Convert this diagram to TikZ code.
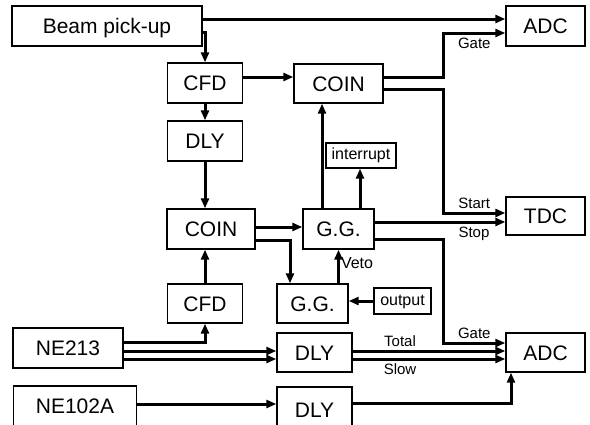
\documentclass[tikz,border=0pt]{standalone}
\usepackage{fontspec}
\setmainfont{Liberation Sans}
\usetikzlibrary{arrows.meta}

\begin{document}
\begin{tikzpicture}[x=1pt, y=-1pt, line width=3pt,
      box/.style={draw, line width=1.4pt, font=\fontsize{21}{25}\selectfont,
                  text height=15pt, text depth=0pt, inner sep=0pt},
      smallbox/.style={draw, line width=1.4pt, font=\fontsize{16}{19}\selectfont,
                  text height=11.5pt, text depth=3.5pt, inner sep=0pt},
      lbl/.style={font=\fontsize{15}{18}\selectfont, inner sep=3pt},
      >={Triangle[length=10pt, width=8pt]}]
    \clip (0,0) rectangle (590,424);
    % timing branch
    \node[box, minimum width=190pt, minimum height=40pt] (bpu) at (107,26) {Beam pick-up};
    \node[box, minimum width=75pt, minimum height=40pt] (cfdA) at (205,83) {CFD};
    \node[box, minimum width=75pt, minimum height=40pt] (dlyA) at (205,141) {DLY};
    \node[box, minimum width=89pt, minimum height=39pt] (coinA) at (338.5,83.5) {COIN};
    \node[box, minimum width=79pt, minimum height=40pt] (adcA) at (545.5,26) {ADC};
    \node[smallbox, minimum width=70pt, minimum height=25pt] (irq) at (361,155.5) {interrupt};
    \node[box, minimum width=88pt, minimum height=40pt] (coinB) at (211,229) {COIN};
    \node[box, minimum width=71pt, minimum height=40pt] (ggA) at (338.5,229) {G.G.};
    \node[box, minimum width=79pt, minimum height=38pt] (tdc) at (545.5,216) {TDC};
    \node[box, minimum width=75pt, minimum height=39pt] (cfdB) at (205,303.5) {CFD};
    \node[box, minimum width=71pt, minimum height=39pt] (ggB) at (312.5,303.5) {G.G.};
    \node[smallbox, minimum width=57pt, minimum height=26pt] (outp) at (402.5,301) {output};
    % detectors
    \node[box, minimum width=110pt, minimum height=40pt] (ne213) at (68,348) {NE213};
    \node[box, minimum width=75pt, minimum height=39pt] (dlyB) at (314.5,352.5) {DLY};
    \node[box, minimum width=79pt, minimum height=39pt] (adcB) at (545.5,352.5) {ADC};
    \node[box, minimum width=123pt, minimum height=40pt] (ne102) at (75,406) {NE102A};
    \node[box, minimum width=75pt, minimum height=46pt] (dlyC) at (314.5,410) {DLY};

    \draw[->] ([yshift=7pt]bpu.east) -- ([yshift=7pt]adcA.west);
    \draw[->] ([yshift=-6pt]bpu.east) -| (cfdA.north);
    \draw[->] (cfdA) -- (dlyA);
    \draw[->] ([yshift=6pt]cfdA.east) -- ([yshift=6pt]cfdA.east -| coinA.west);
    \draw[->] (dlyA) -- (dlyA |- coinB.north);
    \draw[->] ([yshift=6.5pt]coinA.east) -| ([xshift=-62pt, yshift=-7pt]adcA.west)
      -- ([yshift=-7pt]adcA.west) node[lbl, midway, below, yshift=-1pt] {Gate};
    \draw[->] ([yshift=-5.5pt]coinA.east) -| ([xshift=-62pt, yshift=3pt]tdc.west)
      -- ([yshift=3pt]tdc.west) node[lbl, midway, above] {Start};
    \draw[->] ([yshift=7pt]ggA.east) -- ([yshift=7pt]ggA.east -| tdc.west)
      node[lbl, pos=0.76, below, yshift=-1pt] {Stop};
    \draw[->] ([yshift=-10pt]ggA.east) -| ([xshift=-62pt, yshift=9.5pt]adcB.west)
      -- ([yshift=9.5pt]adcB.west) node[lbl, midway, above] {Gate};
    \draw[->] ([xshift=-16.5pt]ggA.north) -- ([xshift=-16.5pt]ggA.north |- coinA.south);
    \draw[->] ([xshift=21.5pt]ggA.north) -- ([xshift=21.5pt]ggA.north |- irq.south);
    \draw[->] ([yshift=2pt]coinB.east) -- ([yshift=2pt]coinB.east -| ggA.west);
    \draw[->] ([yshift=-11pt]coinB.east) -| ([xshift=-22.5pt]ggB.north);
    \draw[->] (ggB.north -| ggA) -- (ggA.south)
      node[lbl, midway, right, inner sep=1pt, yshift=3pt, font=\fontsize{16}{19}\selectfont] {Veto};
    \draw[->] (outp) -- (outp -| ggB.east);
    \draw[->] (cfdB) -- (cfdB |- coinB.south);
    \draw[->] ([yshift=6pt]ne213.east) -| (cfdB.south);
    \draw[->] ([yshift=-3pt]ne213.east) -- ([yshift=-3pt]ne213.east -| dlyB.west);
    \draw[->] ([yshift=-11pt]ne213.east) -- ([yshift=-11pt]ne213.east -| dlyB.west);
    \draw[->] ([yshift=1.5pt]dlyB.east) -- ([yshift=1.5pt]adcB.west)
      node[lbl, pos=0.31, above] {Total};
    \draw[->] ([yshift=-6.5pt]dlyB.east) -- ([yshift=-6.5pt]adcB.west)
      node[lbl, pos=0.31, below] {Slow};
    \draw[->] ([yshift=7pt]dlyC.east) -| ([xshift=-34.5pt]adcB.south);
    \draw[->] ([yshift=2pt]ne102.east) -- ([yshift=2pt]ne102.east -| dlyC.west);
  \end{tikzpicture}
\end{document}
